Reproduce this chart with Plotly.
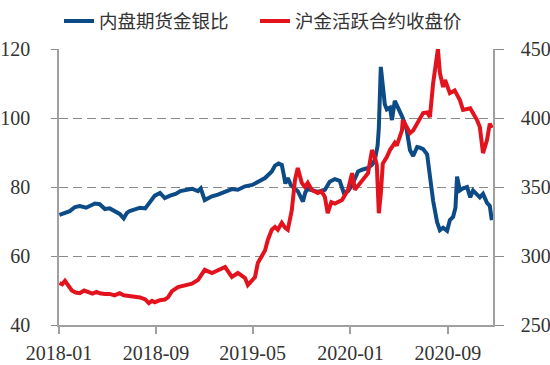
import plotly.graph_objects as go

# 内盘期货金银比 (left axis)
ratio_dates = ["2018-01-02","2018-01-16","2018-01-28","2018-02-10","2018-02-22","2018-03-10","2018-03-20",
    "2018-04-01","2018-04-13","2018-04-26","2018-05-08","2018-05-21","2018-06-02","2018-06-12","2018-06-20",
    "2018-06-27","2018-07-10","2018-07-23","2018-08-05","2018-08-17","2018-08-29","2018-09-11","2018-09-23",
    "2018-10-06","2018-10-20","2018-11-01","2018-11-15","2018-11-30","2018-12-15","2018-12-22","2019-01-01",
    "2019-01-10","2019-01-19","2019-02-03","2019-02-21","2019-03-10","2019-03-25","2019-04-12","2019-04-30",
    "2019-05-14","2019-06-01","2019-06-18","2019-06-26","2019-07-05","2019-07-13","2019-07-18","2019-07-22",
    "2019-07-28","2019-08-05","2019-08-15","2019-08-22","2019-09-04","2019-09-10","2019-09-16","2019-09-26",
    "2019-10-11","2019-10-29","2019-11-10","2019-11-23","2019-12-05","2019-12-15","2019-12-26","2020-01-05",
    "2020-01-20","2020-01-30","2020-02-14","2020-02-24","2020-03-02","2020-03-09","2020-03-12","2020-03-17",
    "2020-03-22","2020-03-27","2020-04-01","2020-04-09","2020-04-14","2020-04-21","2020-04-29","2020-05-11",
    "2020-05-21","2020-05-29","2020-06-06","2020-06-16","2020-06-23","2020-07-01","2020-07-11","2020-07-18",
    "2020-07-26","2020-08-05","2020-08-12","2020-08-20","2020-08-30","2020-09-06","2020-09-14","2020-09-20",
    "2020-09-24","2020-10-01","2020-10-09","2020-10-19","2020-10-27","2020-11-03","2020-11-13","2020-11-20",
    "2020-11-28","2020-12-08","2020-12-15","2020-12-20"]
ratio_values = [71.9,72.5,73.0,74.2,74.5,74.0,74.6,
    75.2,75.0,73.6,73.8,72.8,72.2,70.9,72.5,
    73.0,73.5,74.0,73.8,75.5,77.5,78.3,76.8,
    77.5,78.0,78.8,79.2,79.5,78.8,79.6,76.2,
    76.8,77.3,77.8,78.6,79.4,79.2,80.2,80.6,
    81.4,82.6,84.5,86.2,86.8,86.4,83.5,81.0,
    82.6,80.5,79.5,78.8,75.8,78.5,79.4,79.0,
    78.6,79.2,81.5,82.3,81.8,78.4,78.8,80.5,
    84.5,85.0,85.5,86.5,87.8,92.0,97.0,114.8,
    108.0,104.0,102.5,103.0,99.4,105.0,103.0,100.0,
    96.5,90.7,89.0,91.6,91.4,91.0,89.5,83.0,
    76.0,69.8,67.5,68.2,67.3,70.4,71.3,74.0,
    83.0,79.0,79.6,80.0,77.0,79.0,77.8,77.0,
    78.0,75.4,74.5,70.4]

# 沪金活跃合约收盘价 (right axis)
gold_dates = ["2018-01-02","2018-01-09","2018-01-16","2018-01-24","2018-02-02","2018-02-12","2018-02-22",
    "2018-03-05","2018-03-14","2018-03-26","2018-04-05","2018-04-13","2018-04-26","2018-05-08","2018-05-20",
    "2018-06-02","2018-06-12","2018-06-27","2018-07-10","2018-07-23","2018-08-05","2018-08-14","2018-08-22",
    "2018-08-29","2018-09-11","2018-09-23","2018-10-01","2018-10-11","2018-10-26","2018-11-12","2018-11-30",
    "2018-12-15","2019-01-01","2019-01-19","2019-02-03","2019-02-21","2019-03-10","2019-03-25","2019-04-12",
    "2019-04-19","2019-05-07","2019-05-14","2019-06-01","2019-06-08","2019-06-18","2019-06-26","2019-07-03",
    "2019-07-13","2019-07-21","2019-07-28","2019-08-07","2019-08-15","2019-08-22","2019-09-01","2019-09-09",
    "2019-09-16","2019-09-26","2019-10-11","2019-10-20","2019-10-29","2019-11-05","2019-11-14","2019-11-23",
    "2019-12-11","2019-12-26","2020-01-05","2020-01-12","2020-01-30","2020-02-14","2020-02-24","2020-03-02",
    "2020-03-07","2020-03-12","2020-03-17","2020-03-22","2020-04-01","2020-04-09","2020-04-21","2020-04-26",
    "2020-05-09","2020-05-11","2020-05-21","2020-05-29","2020-06-06","2020-06-16","2020-07-01","2020-07-11",
    "2020-07-18","2020-07-26","2020-08-05","2020-08-07","2020-08-12","2020-08-20","2020-08-25","2020-09-06",
    "2020-09-18","2020-10-01","2020-10-09","2020-10-27","2020-11-13","2020-11-20","2020-11-28","2020-12-08",
    "2020-12-15","2020-12-20"]
gold_values = [280.4,279.5,282.0,278.5,275.0,273.5,273.0,
    275.0,274.0,272.8,274.0,273.0,272.5,272.5,271.5,
    273.0,271.5,271.0,270.5,270.0,268.5,265.8,267.5,
    266.5,268.0,268.5,270.0,274.5,277.5,279.0,280.0,
    282.6,290.0,287.7,290.0,292.0,284.8,287.7,284.0,
    279.0,284.8,295.0,304.0,311.6,319.0,321.0,319.0,
    324.0,320.5,319.0,333.0,355.0,363.8,353.0,350.0,
    353.0,348.0,345.6,347.0,342.8,331.0,339.0,338.0,
    340.6,348.0,360.0,348.0,355.0,360.0,376.8,371.7,
    366.0,331.0,345.0,367.0,371.7,376.8,382.0,380.0,
    391.0,398.5,393.5,389.0,391.0,396.0,403.6,404.0,
    400.7,425.0,449.0,450.0,432.6,422.5,427.5,418.0,
    420.0,413.0,405.8,407.0,398.5,393.5,374.6,384.0,
    396.0,392.7]

tick_dates = ["2018-01-01","2018-09-01","2019-05-01","2020-01-01","2020-09-01"]
tick_labels = ["2018-01","2018-09","2019-05","2020-01","2020-09"]

BLUE = "#0D4B86"
RED = "#E3131E"
GRID = "#8A8A8A"
AXIS = "#A0A0A0"
TXT = "#333333"
SERIF = "Liberation Serif"
CJK = "Noto Sans CJK SC"

fig = go.Figure()
fig.add_trace(go.Scatter(x=ratio_dates, y=ratio_values, name="内盘期货金银比",
                         mode="lines", line=dict(color=BLUE, width=4), yaxis="y",
                         legend="legend"))
fig.add_trace(go.Scatter(x=gold_dates, y=gold_values, name="沪金活跃合约收盘价",
                         mode="lines", line=dict(color=RED, width=4), yaxis="y2",
                         legend="legend2"))

legend_common = dict(orientation="h", xanchor="left", y=1.1, yanchor="middle",
                     font=dict(family=CJK, size=18.5, color=TXT),
                     bgcolor="rgba(0,0,0,0)")

fig.update_layout(
    width=550, height=365,
    margin=dict(l=59, r=57, t=49, b=40, autoexpand=False),
    paper_bgcolor="white", plot_bgcolor="white",
    showlegend=True,
    legend=dict(x=0.0, **legend_common),
    legend2=dict(x=0.4516, **legend_common),
    xaxis=dict(type="date", range=["2018-01-01", "2020-12-23"],
               tickvals=tick_dates, ticktext=tick_labels,
               showgrid=False, showline=True, linecolor=AXIS, linewidth=1.5,
               ticks="outside", ticklen=7, tickcolor=AXIS, tickwidth=1.5,
               ticklabelstandoff=2,
               tickfont=dict(family=SERIF, size=20, color=TXT), zeroline=False,
               automargin=False),
    yaxis=dict(range=[40, 120], tickvals=[40, 60, 80, 100, 120],
               showgrid=True, gridcolor=GRID, gridwidth=1.3, griddash="9px,5px",
               showline=True, linecolor=AXIS, linewidth=1.5,
               ticks="outside", ticklen=6, tickcolor=GRID, tickwidth=1.3,
               ticklabelstandoff=17,
               tickfont=dict(family=SERIF, size=20, color=TXT), zeroline=False,
               automargin=False),
    yaxis2=dict(range=[250, 450], tickvals=[250, 300, 350, 400, 450],
                overlaying="y", side="right", showgrid=False,
                showline=True, linecolor=AXIS, linewidth=1.5,
                ticks="outside", ticklen=9, tickcolor=GRID, tickwidth=1.3,
                ticklabelstandoff=13,
                tickfont=dict(family=SERIF, size=20, color=TXT), zeroline=False,
                automargin=False),
)

# remove the browser's default 8px body margin so the figure sits at the page corner
fig.write_html("out.html", config={"displayModeBar": False},
               post_script="document.body.style.margin='0';")
